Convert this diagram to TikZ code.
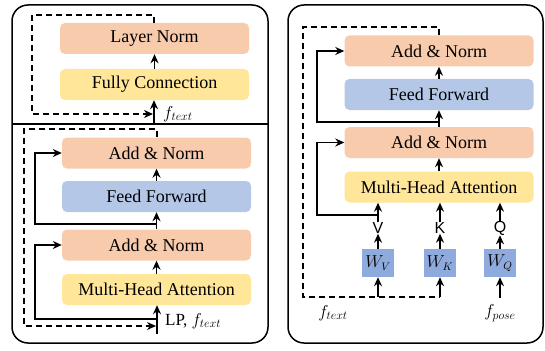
\documentclass[tikz,border=0pt]{standalone}
\usepackage{fontspec}
\setmainfont{Liberation Serif}
\newfontfamily\lettersf{Liberation Sans}
\usetikzlibrary{arrows.meta}

\definecolor{peach}{HTML}{F8CBAD}
\definecolor{gold}{HTML}{FFE699}
\definecolor{lightblue}{HTML}{B4C7E7}
\definecolor{wblue}{HTML}{8FAADC}

\begin{document}
\begin{tikzpicture}[x=1pt,y=-1pt,
  panel/.style={draw, line width=1.5pt, rounded corners=16pt},
  blk/.style={rounded corners=5pt, minimum height=31pt, minimum width=189pt,
    inner sep=0pt, font=\fontsize{18}{20}\selectfont},
  normbox/.style={blk, fill=peach},
  attbox/.style={blk, fill=gold},
  ffbox/.style={blk, fill=lightblue},
  wbox/.style={fill=wblue, minimum width=32pt, minimum height=28pt, inner sep=0pt,
    font=\fontsize{16}{18}\selectfont},
  qkv/.style={inner sep=0pt, font=\lettersf\fontsize{16}{18}\selectfont},
  lbl/.style={inner sep=0pt, font=\fontsize{18}{20}\selectfont},
  conn/.style={line width=1.6pt},
  arr/.style={conn, -{Stealth[length=9pt,width=8pt]}},
  skipline/.style={line width=1.4pt, dash pattern=on 6pt off 4pt},
  skiparr/.style={skipline, -{Stealth[length=9pt,width=8pt]}},
]
\useasboundingbox (0,0) rectangle (545,350);

% ---------- left panel ----------
\draw[panel] (12,5) rectangle (268,343);
\draw[line width=1.5pt] (12,124) -- (268,124);

% text feature block
\node[normbox] (ln) at (154.5,38.5) {Layer Norm};
\node[attbox]  (fc) at (154.5,84.5) {Fully Connection};
\coordinate (tin) at (154,123);
\draw[arr] (fc) -- (ln);
\draw[arr] (tin) -- (fc.south -| tin);
\node[lbl, anchor=west] (tlab) at (163,114) {$f_{text}$};
\coordinate (ta) at (154,15);
\coordinate (tb) at (32,15);
\coordinate (tc) at (32,114);
\coordinate (td) at (153,114);
\draw[skiparr] (ln.north -| ta) -- (ta) -- (tb) -- (tc) -- (td);

% encoder block
\node[normbox] (lan1) at (156.5,153)   {Add \& Norm};
\node[ffbox]   (lff)  at (156.5,196.5) {Feed Forward};
\node[normbox] (lan2) at (156.5,245)   {Add \& Norm};
\node[attbox]  (lmha) at (156.5,289.5) {Multi-Head Attention};
\draw[arr] (lff) -- (lan1);
\draw[arr] (lan2) -- (lff);
\draw[arr] (lmha) -- (lan2);
\coordinate (lin) at (157,334);
\draw[arr] (lin) -- (lmha.south -| lin);
\node[lbl, anchor=west, font=\fontsize{17}{19}\selectfont] (llab) at (165,321) {LP, $f_{text}$};

\coordinate (lr1) at (157,224);
\coordinate (lr1a) at (35,224);
\draw[arr] (lr1) -- (lr1a) |- (lan1.west);
\coordinate (lr2) at (157,319);
\coordinate (lr2a) at (35,319);
\draw[arr] (lr2) -- (lr2a) |- (lan2.west);

\coordinate (la) at (157,129);
\coordinate (lb) at (24,129);
\coordinate (lc) at (24,326);
\coordinate (ld) at (156,326);
\draw[skiparr] (lan1.north -| la) -- (la) -- (lb) -- (lc) -- (ld);

% ---------- right panel ----------
\draw[panel] (288,5) rectangle (543,343);

\node[normbox] (ran1) at (439,51)    {Add \& Norm};
\node[ffbox]   (rff)  at (439,94.5)  {Feed Forward};
\node[normbox] (ran2) at (439,142.5) {Add \& Norm};
\node[attbox]  (rmha) at (439,187)   {Multi-Head Attention};
\draw[arr] (rff) -- (ran1);
\draw[arr] (ran2) -- (rff);
\draw[arr] (rmha) -- (ran2);

\node[wbox] (wv) at (378,263) {$W_V$};
\node[wbox] (wk) at (440,263) {$W_K$};
\node[wbox] (wq) at (500,263) {$W_Q$};
\node[qkv] (v) at (378,228) {V};
\node[qkv] (k) at (440,228) {K};
\node[qkv] (q) at (500,228) {Q};
\draw[arr] (wv) -- (v);
\draw[arr] (wk) -- (k);
\draw[arr] (wq) -- (q);
\draw[arr] (v) -- (v |- rmha.south);
\draw[arr] (k) -- (k |- rmha.south);
\draw[arr] (q) -- (q |- rmha.south);

\coordinate (rr1) at (439,122);
\coordinate (rr1a) at (317,122);
\draw[arr] (rr1) -- (rr1a) |- (ran1.west);
\coordinate (rr2) at (378,215);
\coordinate (rr2a) at (317,215);
\draw[arr] (rr2) -- (rr2a) |- (ran2.west);

\coordinate (ra) at (439,27);
\coordinate (rb) at (303,27);
\coordinate (rc) at (303,297);
\coordinate (rd) at (440,297);
\draw[skipline] (ran1.north -| ra) -- (ra) -- (rb) -- (rc) -- (rd);
\coordinate (vin) at (378,297);
\draw[arr] (vin) -- (wv);
\draw[arr] (rd) -- (wk);
\coordinate (qin) at (500,298);
\draw[arr] (qin) -- (wq);

\node[lbl] (rtext) at (333,313) {$f_{text}$};
\node[lbl] (rpose) at (500,313) {$f_{pose}$};
\end{tikzpicture}
\end{document}
